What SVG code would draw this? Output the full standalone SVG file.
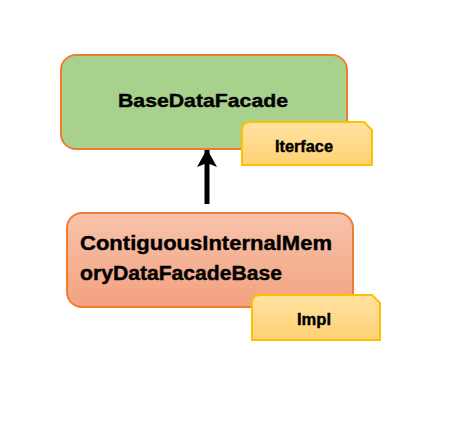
<svg xmlns="http://www.w3.org/2000/svg" width="456" height="422" viewBox="0 0 456 422">
<defs>
<style>
.box{stroke:#ed7d31;stroke-width:2}
.tag{fill:url(#tagGrad);stroke:#ffc000;stroke-width:2}
.t{font-family:"Liberation Sans",Arial,sans-serif;font-weight:bold;fill:#000;stroke:#000;stroke-width:0.4}
</style>
<linearGradient id="implGrad" x1="0" y1="0" x2="0" y2="1">
<stop offset="0" stop-color="#f7c3ab"/>
<stop offset="1" stop-color="#f3a27f"/>
</linearGradient>
<linearGradient id="tagGrad" x1="0" y1="0" x2="0" y2="1">
<stop offset="0" stop-color="#ffe2a2"/>
<stop offset="1" stop-color="#ffd273"/>
</linearGradient>
<marker id="ah" markerUnits="userSpaceOnUse" markerWidth="20" markerHeight="20" viewBox="0 0 20 20" refX="18" refY="10" orient="auto">
<path d="M0,0 L18,10 L0,20 L4,10 Z" fill="#000"/>
</marker>
</defs>
<rect width="456" height="422" fill="#fff"/>
<g id="connectors">
<line x1="207" y1="204" x2="207" y2="149" stroke="#000" stroke-width="5" marker-end="url(#ah)"/>
</g>
<g id="node-base">
<rect class="box" x="61" y="55" width="286" height="94" rx="15" fill="#a9d18e"/>
<text class="t" x="203" y="107" font-size="18.5" text-anchor="middle" textLength="170" lengthAdjust="spacingAndGlyphs">BaseDataFacade</text>
</g>
<g id="tag-iterface">
<path class="tag" d="M242,165 V130 Q242,122 250,122 H364 L372,130 V165 Z"/>
<text class="t" x="304" y="152" font-size="16" text-anchor="middle" textLength="58" lengthAdjust="spacingAndGlyphs">Iterface</text>
</g>
<g id="node-impl">
<rect class="box" x="67" y="213" width="286" height="94" rx="15" fill="url(#implGrad)"/>
<text class="t" x="80" y="250" font-size="20" textLength="252" lengthAdjust="spacingAndGlyphs">ContiguousInternalMem</text>
<text class="t" x="80" y="280" font-size="20" textLength="202" lengthAdjust="spacingAndGlyphs">oryDataFacadeBase</text>
</g>
<g id="tag-impl">
<path class="tag" d="M252,340 V303 Q252,295 260,295 H372 L380,303 V340 Z"/>
<text class="t" x="314" y="325" font-size="16" text-anchor="middle" textLength="34" lengthAdjust="spacingAndGlyphs">Impl</text>
</g>
</svg>
